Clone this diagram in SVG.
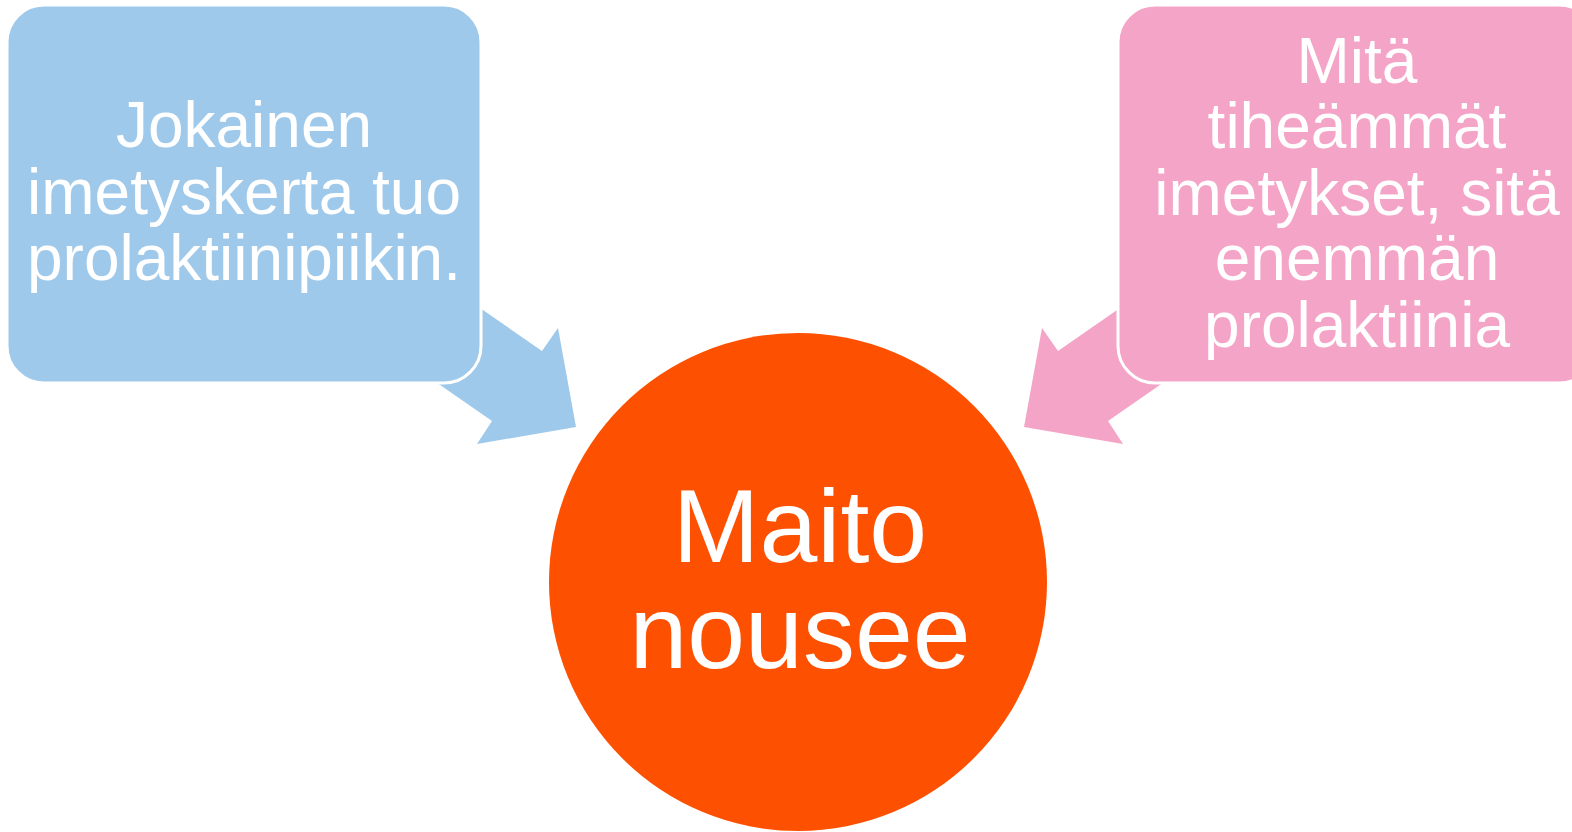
<svg xmlns="http://www.w3.org/2000/svg" width="1572" height="832" viewBox="0 0 1572 832">
<style>
text{font-family:"Liberation Sans",Arial,sans-serif;fill:#fff;text-anchor:middle}
.box{stroke:#fff;stroke-width:3}
.t{font-size:64px}
.big{font-size:104px}
</style>
<rect width="1572" height="832" fill="#fff"/>
<g id="connectors">
<polygon fill="#9FC9EA" points="434,276 542,351 558,328 576,427 477,444 492,421 394,353"/>
<polygon fill="#F4A4C7" points="1166,276 1058,351 1042,328 1024,427 1123,444 1108,421 1206,353"/>
</g>
<g id="node-center">
<circle cx="798" cy="582" r="249" fill="#FD5000"/>
<text class="big" x="800" y="562">Maito</text>
<text class="big" x="800" y="668">nousee</text>
</g>
<g id="node-left">
<rect class="box" x="7" y="5" width="474" height="378" rx="37" fill="#9FC9EA"/>
<text class="t" x="244" y="147">Jokainen</text>
<text class="t" x="244" y="214">imetyskerta tuo</text>
<text class="t" x="244" y="280">prolaktiinipiikin.</text>
</g>
<g id="node-right">
<rect class="box" x="1118" y="5" width="478" height="378" rx="37" fill="#F4A4C7"/>
<text class="t" x="1357" y="83">Mitä</text>
<text class="t" x="1357" y="148">tiheämmät</text>
<text class="t" x="1357" y="215">imetykset, sitä</text>
<text class="t" x="1357" y="280">enemmän</text>
<text class="t" x="1357" y="347">prolaktiinia</text>
</g>
</svg>
